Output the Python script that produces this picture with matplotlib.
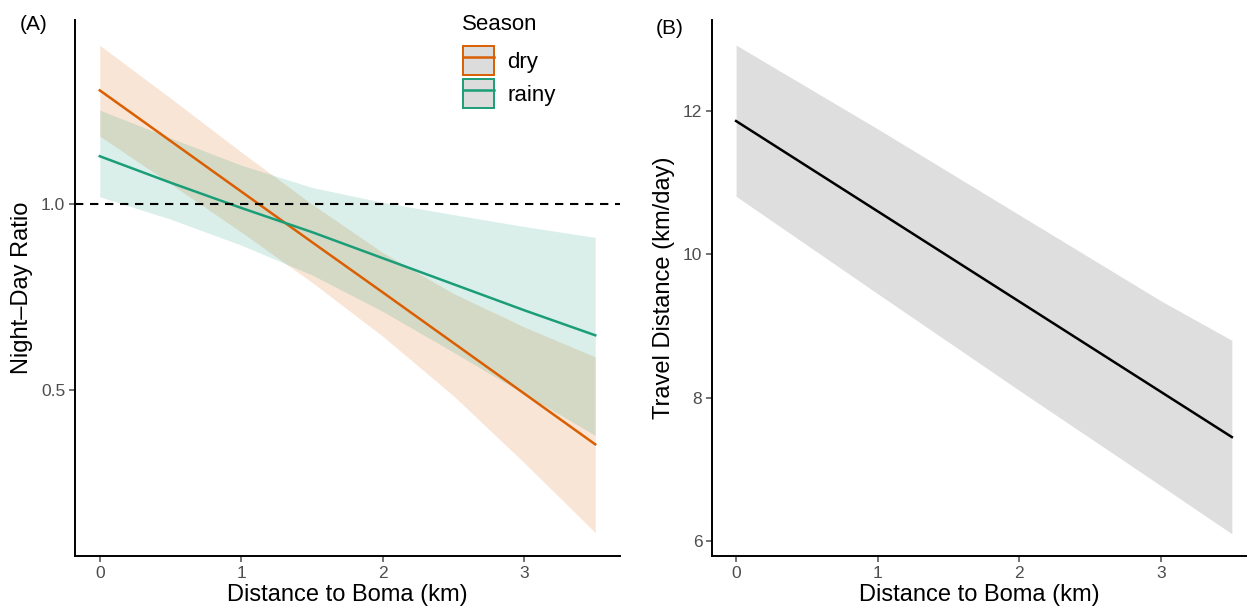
import matplotlib
matplotlib.use("Agg")
import matplotlib.pyplot as plt
from matplotlib.patches import Patch
from matplotlib.lines import Line2D
from matplotlib.legend_handler import HandlerTuple

plt.rcParams['font.family'] = ['Liberation Sans', 'DejaVu Sans']

# ---- Panel A data: Night-Day ratio vs distance to boma ----
dist_a = [0.0, 0.5, 1.0, 1.5, 2.0, 2.5, 3.0, 3.5]
dry_fit = [1.306, 1.170, 1.034, 0.898, 0.763, 0.627, 0.491, 0.355]
dry_upper = [1.427, 1.285, 1.140, 1.000, 0.870, 0.760, 0.670, 0.590]
dry_lower = [1.183, 1.055, 0.925, 0.790, 0.645, 0.485, 0.305, 0.118]
rainy_fit = [1.129, 1.058, 0.990, 0.925, 0.855, 0.785, 0.715, 0.648]
rainy_upper = [1.253, 1.178, 1.105, 1.045, 1.005, 0.972, 0.940, 0.911]
rainy_lower = [1.020, 0.960, 0.890, 0.810, 0.712, 0.602, 0.490, 0.379]
seasons = ["dry", "rainy"]
legend_title = "Season"
ref_ratio = 1.0
yticks_a = [0.5, 1.0]
ytick_labels_a = ["0.5", "1.0"]

# ---- Panel B data: travel distance vs distance to boma ----
dist_b = [0.0, 1.0, 2.0, 3.0, 3.5]
travel_fit = [11.86, 10.60, 9.34, 8.08, 7.45]
travel_upper = [12.92, 11.75, 10.55, 9.35, 8.80]
travel_lower = [10.81, 9.45, 8.10, 6.77, 6.10]
yticks_b = [6, 8, 10, 12]
xticks = [0, 1, 2, 3]

col_dry = "#D95F02"
col_rainy = "#1B9E77"
tick_col = "#4D4D4D"

fig = plt.figure(figsize=(12.48, 6.09), dpi=100)
axA = fig.add_axes([75/1248, 1-556/609, (620-75)/1248, (556-20)/609])
axB = fig.add_axes([712/1248, 1-556/609, (1246-712)/1248, (556-20)/609])

# Panel A
axA.fill_between(dist_a, dry_lower, dry_upper, color=col_dry, alpha=0.16, lw=0)
axA.fill_between(dist_a, rainy_lower, rainy_upper, color=col_rainy, alpha=0.16, lw=0)
axA.plot(dist_a, dry_fit, color=col_dry, lw=1.8)
axA.plot(dist_a, rainy_fit, color=col_rainy, lw=1.8)
axA.axhline(ref_ratio, color="black", lw=1.5, ls=(0, (4, 3.2)))
axA.set_xlim(-0.175, 3.675)
axA.set_ylim(0.055, 1.495)
axA.set_yticks(yticks_a)
axA.set_yticklabels(ytick_labels_a)
axA.set_ylabel("Night\u2013Day Ratio", fontsize=17, labelpad=6)

# Panel B
axB.fill_between(dist_b, travel_lower, travel_upper, color="#DEDEDE", lw=0)
axB.plot(dist_b, travel_fit, color="black", lw=1.8)
axB.set_xlim(-0.17, 3.6)
axB.set_ylim(5.79, 13.27)
axB.set_yticks(yticks_b)
axB.set_ylabel("Travel Distance (km/day)", fontsize=17, labelpad=6)

for ax in (axA, axB):
    ax.set_xticks(xticks)
    ax.set_xlabel("Distance to Boma (km)", fontsize=17, labelpad=2)
    for s in ("top", "right"):
        ax.spines[s].set_visible(False)
    for s in ("left", "bottom"):
        ax.spines[s].set_linewidth(1.4)
        ax.spines[s].set_color("black")
    ax.tick_params(axis="both", labelsize=12.5, colors=tick_col, length=4, width=1.1,
                   labelcolor=tick_col, pad=3)

fig.text(20/1248, 1-25/609, "(A)", fontsize=15, va="center", ha="left")
fig.text(656/1248, 1-28/609, "(B)", fontsize=15, va="center", ha="left")

# Legend (title drawn as text, entries as legend)
fig.text(462/1248, 1-24/609, legend_title, fontsize=16, va="center", ha="left")
handles = []
for c in (col_dry, col_rainy):
    p = Patch(facecolor="#DCDCDC", edgecolor=c, linewidth=1.4)
    l = Line2D([], [], color=c, lw=1.8)
    handles.append((p, l))
leg = axA.legend(handles, seasons, handler_map={tuple: HandlerTuple(ndivide=1, pad=0)},
                 loc="upper left", bbox_to_anchor=(463/1248, 1-46/609), bbox_transform=fig.transFigure,
                 frameon=False, fontsize=16, handlelength=1.4, handleheight=1.6,
                 labelspacing=0.22, handletextpad=0.6, borderpad=0.0, borderaxespad=0)

fig.savefig("out.png", dpi=100)
